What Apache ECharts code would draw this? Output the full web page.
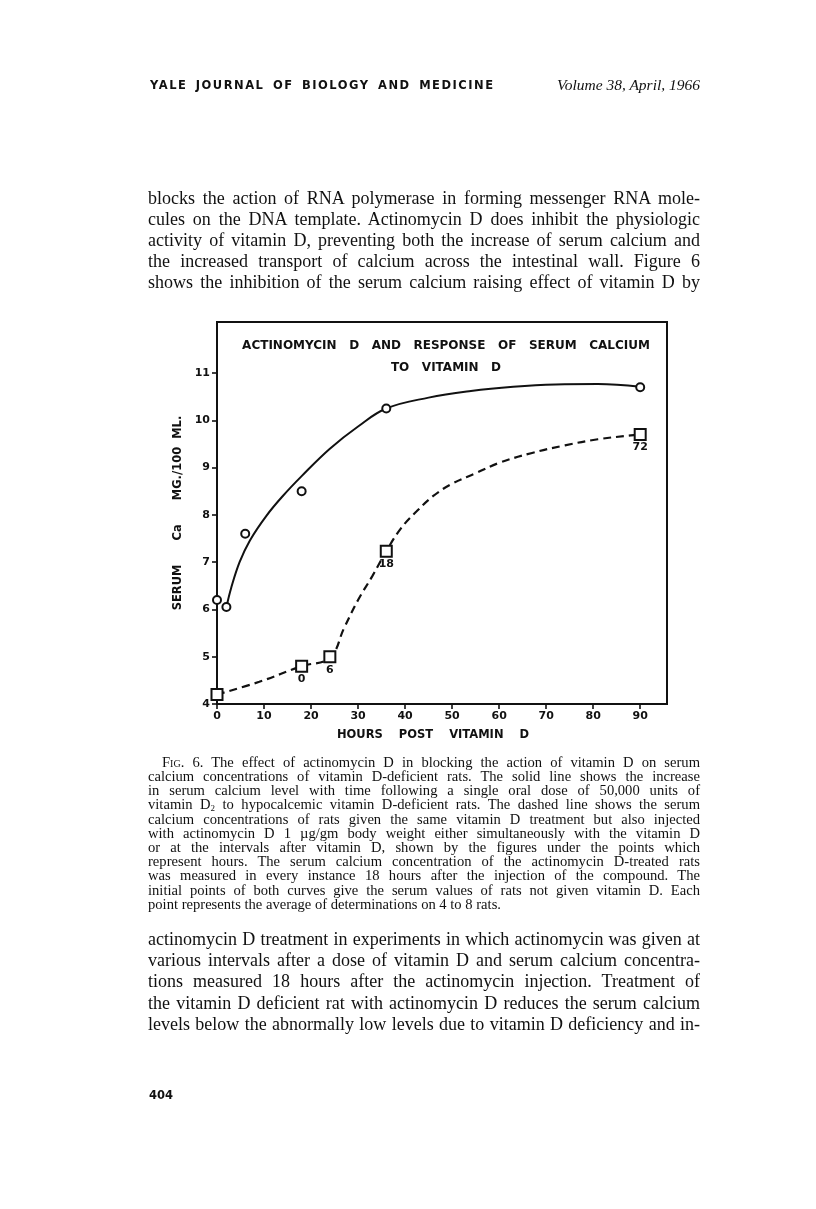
<!DOCTYPE html>
<html>
<head>
<meta charset="utf-8">
<script src="https://cdn.jsdelivr.net/npm/echarts@6/dist/echarts.min.js"></script>
<style>
  html, body { margin:0; padding:0; background:#fff; }
  #page { position:relative; width:816px; height:1209px; overflow:hidden; background:#fff; }
  #chart { position:absolute; left:0; top:0; width:816px; height:1209px; }
  .ln { position:absolute; left:148px; width:552px; white-space:nowrap; text-align:justify; text-align-last:justify;
        font-family:"Liberation Serif","DejaVu Serif",serif; color:#111; }
  .b { font-size:18px; line-height:21px; }
  .c { font-size:14.6px; line-height:14.2px; }
  .hdr { position:absolute; top:78px; color:#111; }
  sub { font-size:9px; vertical-align:-2px; line-height:0; }
</style>
</head>
<body>
<div id="page">
  <div id="chart"></div>
  <div class="hdr" style="left:150px;font:bold 11.5px 'DejaVu Sans',sans-serif;letter-spacing:1.5px;word-spacing:3px;">YALE JOURNAL OF BIOLOGY AND MEDICINE</div>
  <div class="hdr" style="left:520px;width:180px;text-align:right;top:76px;font:italic 15.5px 'Liberation Serif',serif;">Volume 38, April, 1966</div>

  <div class="ln b" style="top:188px">blocks the action of RNA polymerase in forming messenger RNA mole-</div>
  <div class="ln b" style="top:209px">cules on the DNA template. Actinomycin D does inhibit the physiologic</div>
  <div class="ln b" style="top:230px">activity of vitamin D, preventing both the increase of serum calcium and</div>
  <div class="ln b" style="top:251px">the increased transport of calcium across the intestinal wall. Figure 6</div>
  <div class="ln b" style="top:272px">shows the inhibition of the serum calcium raising effect of vitamin D by</div>

  <div class="ln c" style="top:755px;left:162px;width:538px"><span style="font-variant:small-caps">Fig</span>. 6. The effect of actinomycin D in blocking the action of vitamin D on serum</div>
  <div class="ln c" style="top:769px">calcium concentrations of vitamin D-deficient rats. The solid line shows the increase</div>
  <div class="ln c" style="top:783px">in serum calcium level with time following a single oral dose of 50,000 units of</div>
  <div class="ln c" style="top:797px">vitamin D<sub>2</sub> to hypocalcemic vitamin D-deficient rats. The dashed line shows the serum</div>
  <div class="ln c" style="top:812px">calcium concentrations of rats given the same vitamin D treatment but also injected</div>
  <div class="ln c" style="top:826px">with actinomycin D 1 µg/gm body weight either simultaneously with the vitamin D</div>
  <div class="ln c" style="top:840px">or at the intervals after vitamin D, shown by the figures under the points which</div>
  <div class="ln c" style="top:854px">represent hours. The serum calcium concentration of the actinomycin D-treated rats</div>
  <div class="ln c" style="top:868px">was measured in every instance 18 hours after the injection of the compound. The</div>
  <div class="ln c" style="top:883px">initial points of both curves give the serum values of rats not given vitamin D. Each</div>
  <div class="ln c" style="top:897px;text-align:left;text-align-last:left">point represents the average of determinations on 4 to 8 rats.</div>

  <div class="ln b" style="top:929px">actinomycin D treatment in experiments in which actinomycin was given at</div>
  <div class="ln b" style="top:950px">various intervals after a dose of vitamin D and serum calcium concentra-</div>
  <div class="ln b" style="top:971px">tions measured 18 hours after the actinomycin injection. Treatment of</div>
  <div class="ln b" style="top:993px">the vitamin D deficient rat with actinomycin D reduces the serum calcium</div>
  <div class="ln b" style="top:1014px">levels below the abnormally low levels due to vitamin D deficiency and in-</div>

  <div class="hdr" style="left:149px;top:1088px;font:bold 11.5px 'DejaVu Sans',sans-serif;">404</div>
</div>
<script>
// ---- data ----
// open circles: vitamin D only
const circleHours   = [0, 2, 6, 18, 36, 90];
const circleCalcium = [6.2, 6.05, 7.6, 8.5, 10.25, 10.7];
// hand-drawn solid curve (traced points)
const solidCurveHours   = [2, 3, 4.8, 7, 10.5, 14, 18, 24, 30, 36, 45, 54, 63, 72, 81, 90];
const solidCurveCalcium = [6.05, 6.45, 7.0, 7.46, 7.98, 8.4, 8.82, 9.4, 9.87, 10.25, 10.48, 10.62, 10.71, 10.76, 10.77, 10.71];
// open squares: vitamin D + actinomycin D
const squareHours   = [0, 18, 24, 36, 90];
const squareCalcium = [4.2, 4.8, 5.0, 7.23, 9.7];
const squareLabels  = ['', '0', '6', '18', '72'];
// hand-drawn dashed curve (traced points)
const dashedCurveHours   = [0, 9, 18, 24, 27, 30, 33, 36, 39, 42.4, 46, 50, 55, 60, 67, 74, 81, 88, 90];
const dashedCurveCalcium = [4.2, 4.47, 4.8, 4.98, 5.6, 6.2, 6.7, 7.23, 7.7, 8.07, 8.4, 8.66, 8.88, 9.1, 9.31, 9.47, 9.6, 9.68, 9.7];
// axis ticks
const xTicks = [0, 10, 20, 30, 40, 50, 60, 70, 80, 90];
const yTicks = [4, 5, 6, 7, 8, 9, 10, 11];

const zip = (a, b) => a.map((v, i) => [v, b[i]]);
const INK = '#111';
const FONT = "'DejaVu Sans', sans-serif";

const chart = echarts.init(document.getElementById('chart'), null, { renderer: 'canvas' });
chart.setOption({
  backgroundColor: 'transparent',
  animation: false,
  title: {
    text: 'ACTINOMYCIN   D   AND   RESPONSE   OF   SERUM   CALCIUM\nTO   VITAMIN   D',
    left: 441, top: 330, textAlign: 'center',
    textStyle: { fontFamily: FONT, fontWeight: 'bold', fontSize: 12, color: INK, lineHeight: 22 }
  },
  grid: { left: 217, top: 322, width: 450, height: 382, show: true, borderColor: INK, borderWidth: 2, backgroundColor: 'transparent' },
  xAxis: {
    type: 'value', min: 0, max: 95.7, interval: 10,
    splitLine: { show: false },
    axisLine: { show: true, lineStyle: { color: INK, width: 2 } },
    axisTick: { show: true, customValues: xTicks, length: 5, lineStyle: { color: INK, width: 1.6 } },
    axisLabel: { customValues: xTicks, margin: 7, color: INK, fontFamily: FONT, fontWeight: 'bold', fontSize: 11 },
    name: 'HOURS    POST    VITAMIN    D', nameLocation: 'middle', nameGap: 25,
    nameTextStyle: { color: INK, fontFamily: FONT, fontWeight: 'bold', fontSize: 11.5, padding: [0, 18, 0, 0] }
  },
  yAxis: {
    type: 'value', min: 4, max: 12.08, interval: 1,
    splitLine: { show: false },
    axisLine: { show: true, lineStyle: { color: INK, width: 2 } },
    axisTick: { show: true, customValues: yTicks, length: 5, lineStyle: { color: INK, width: 1.6 } },
    axisLabel: { customValues: yTicks, margin: 7, color: INK, fontFamily: FONT, fontWeight: 'bold', fontSize: 11 },
    name: 'SERUM      Ca      MG./100  ML.', nameLocation: 'middle', nameGap: 27, nameRotate: 90,
    nameTextStyle: { color: INK, fontFamily: FONT, fontWeight: 'bold', fontSize: 11.5 }
  },
  series: [
    {
      type: 'line', data: zip(solidCurveHours, solidCurveCalcium), smooth: 0.4, symbol: 'none',
      lineStyle: { color: INK, width: 2 }, z: 2
    },
    {
      type: 'line', data: zip(dashedCurveHours, dashedCurveCalcium), smooth: 0.4, symbol: 'none',
      lineStyle: { color: INK, width: 2.2, type: [8, 5] }, z: 2
    },
    {
      type: 'scatter', data: zip(circleHours, circleCalcium), symbol: 'circle', symbolSize: 8,
      itemStyle: { color: '#fff', borderColor: INK, borderWidth: 2, opacity: 1 }, z: 4
    },
    {
      type: 'scatter', data: zip(squareHours, squareCalcium), symbol: 'rect', symbolSize: 11,
      itemStyle: { color: '#fff', borderColor: INK, borderWidth: 2, opacity: 1 }, z: 4,
      label: {
        show: true, position: 'bottom', distance: 1,
        formatter: p => squareLabels[p.dataIndex],
        color: INK, fontFamily: FONT, fontWeight: 'bold', fontSize: 11
      }
    }
  ]
});
</script>
</body>
</html>
